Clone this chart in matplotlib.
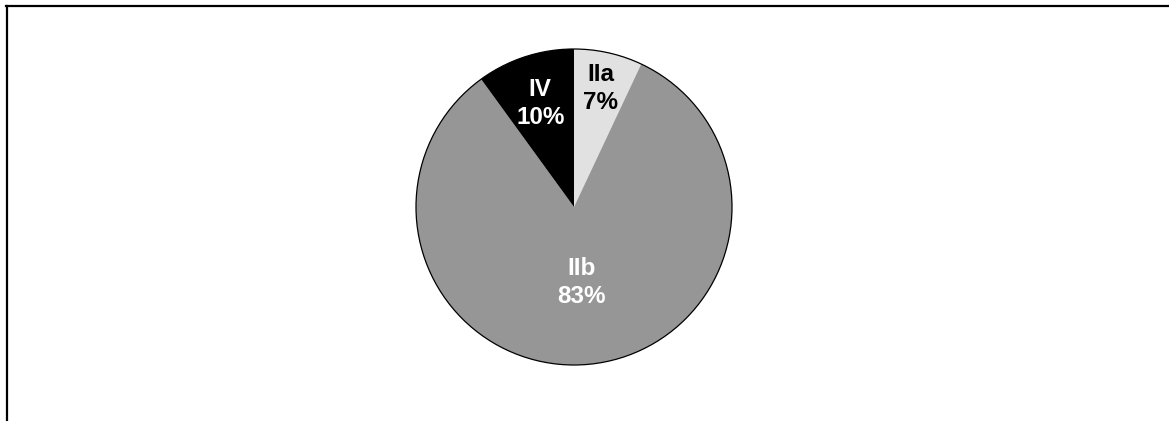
import matplotlib
matplotlib.use("Agg")
import matplotlib.pyplot as plt
from matplotlib.lines import Line2D
from matplotlib.patches import Circle
import numpy as np

# Stage distribution
categories = ["IIa", "IIb", "IV"]
shares = [7, 83, 10]
colors = ["#e1e1e1", "#969696", "#000000"]
text_colors = ["black", "white", "white"]
label_radius = [0.77, 0.48, 0.69]

W, H, DPI = 1169, 421, 100
fig = plt.figure(figsize=(W / DPI, H / DPI), dpi=DPI)
fig.patch.set_facecolor("white")

# Pie axes: centre at (574, 207) px, radius 158 px
cx, cy, r = 574, 207, 158
ax = fig.add_axes([(cx - r) / W, (H - cy - r) / H, 2 * r / W, 2 * r / H])
wedges, _ = ax.pie(shares, colors=colors, startangle=90, counterclock=False,
                   radius=1.0, wedgeprops=dict(linewidth=0))
outline = Circle((0, 0), 1.0, fill=False, edgecolor="black", linewidth=0.9)
outline.set_clip_on(False)
ax.add_patch(outline)
ax.set_xlim(-1, 1)
ax.set_ylim(-1, 1)
ax.set_aspect("equal")
ax.axis("off")

for w, name, val, tc, lr in zip(wedges, categories, shares, text_colors, label_radius):
    ang = np.deg2rad((w.theta1 + w.theta2) / 2)
    ax.text(lr * np.cos(ang), lr * np.sin(ang), f"{name}\n{val}%",
            ha="center", va="center", color=tc, fontsize=17.5,
            fontweight="bold", family="Liberation Sans", linespacing=1.25)

# Frame lines along the top and left edges
fig.add_artist(Line2D([6 / W, 1.0], [1 - 6 / H, 1 - 6 / H], color="black",
                      linewidth=1.6, transform=fig.transFigure))
fig.add_artist(Line2D([7 / W, 7 / W], [0, 1 - 6 / H], color="black",
                      linewidth=1.6, transform=fig.transFigure))

fig.savefig("out.png", dpi=DPI)
